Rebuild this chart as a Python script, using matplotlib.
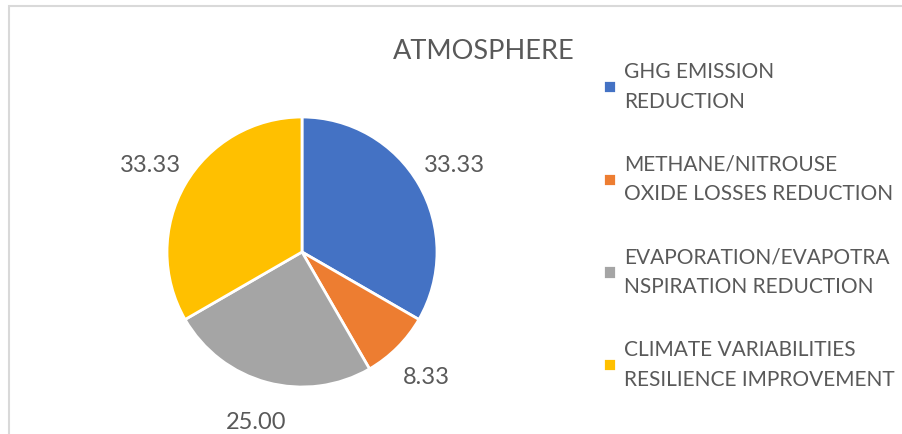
import matplotlib
matplotlib.use("Agg")
import matplotlib.pyplot as plt
from matplotlib.patches import Rectangle

plt.rcParams['font.family'] = ['Lato', 'DejaVu Sans']

title = "ATMOSPHERE"
categories = ["GHG EMISSION\nREDUCTION",
              "METHANE/NITROUSE\nOXIDE LOSSES REDUCTION",
              "EVAPORATION/EVAPOTRA\nNSPIRATION REDUCTION",
              "CLIMATE VARIABILITIES\nRESILIENCE IMPROVEMENT"]
values = [33.33, 8.33, 25.00, 33.33]
colors = ["#4472C4", "#ED7D31", "#A5A5A5", "#FFC000"]
text_color = "#595959"

W, H = 903, 435
fig = plt.figure(figsize=(W / 100, H / 100), dpi=100)

# chart border (left and top visible)
fig.add_artist(Rectangle((9 / W, -0.05), 1.2, (H - 7) / H + 0.05, transform=fig.transFigure,
                         fill=False, edgecolor="#D9D9D9", linewidth=1.5))

ax = fig.add_axes([167 / W, (H - 388) / H, 270 / W, 270 / H])
wedges, texts = ax.pie(values, colors=colors, startangle=90, counterclock=False,
                       labels=[f"{v:.2f}" for v in values], labeldistance=1.3,
                       wedgeprops=dict(edgecolor="white", linewidth=2),
                       textprops=dict(color=text_color, fontsize=17))
for t in texts:
    t.set_horizontalalignment("center")
    t.set_verticalalignment("center")
ax.set_xlim(-1, 1)
ax.set_ylim(-1, 1)

fig.text(484 / W, 1 - 52 / H, title, ha="center", va="center", fontsize=19.5, color=text_color)

leg = fig.legend(wedges, categories, loc="upper left", bbox_to_anchor=(603 / W, 1 - 62 / H),
                 frameon=False, fontsize=15, labelcolor=text_color,
                 handlelength=0.6, handleheight=0.6, handletextpad=0.4,
                 labelspacing=2.07, borderpad=0, borderaxespad=0)
for t in leg.get_texts():
    t.set_linespacing(1.6)

fig.savefig("out.png", dpi=100)
